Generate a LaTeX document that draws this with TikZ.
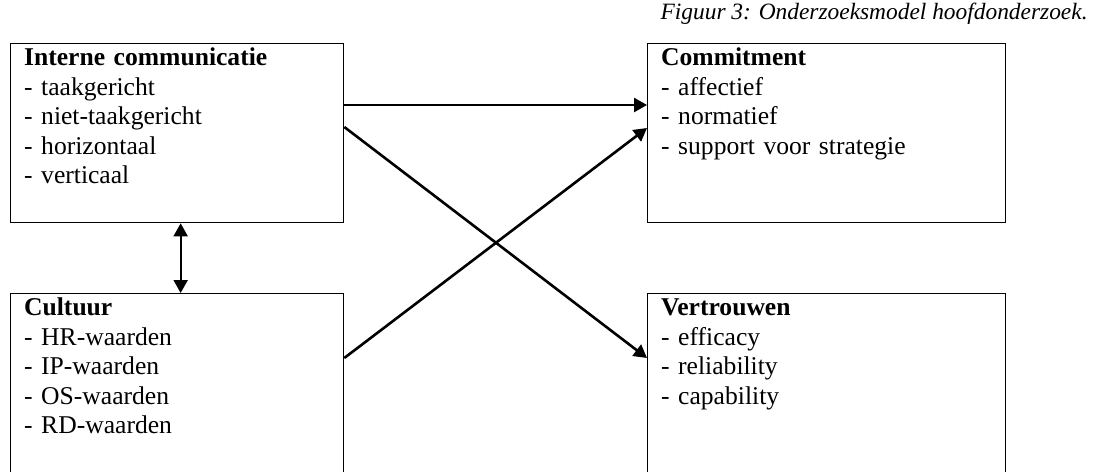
\documentclass[tikz,border=0pt]{standalone}
\usepackage{fontspec}
\setmainfont{Liberation Serif}
\usepackage{tikz}
\usetikzlibrary{arrows.meta,positioning}

\begin{document}
\begin{tikzpicture}[x=0.5pt,y=-0.5pt,
				block/.style ={rectangle, draw=black, line width=0.65pt,
					anchor=north west, align=left,
					inner xsep=6.75pt, inner ysep=0pt,
					text height=11pt, text depth=78.5pt,
					font=\fontsize{12.8}{14.75}\selectfont},
				block_left/.style ={block, text width=153pt},
				block_right/.style ={block, text width=165.5pt},
				line/.style ={draw, line width=1.3pt,
					-{Triangle[length=6.5pt,width=7pt]}, shorten >=0pt}]
				\useasboundingbox (0,0) rectangle (1095,471);
				% caption
				\node [anchor=base east, inner sep=0pt,
					font=\fontsize{11.7}{14}\selectfont\itshape] (caption) at (1088,19)
					{Figuur 3: Onderzoeksmodel hoofdonderzoek.};
				% left column
				\node [block_left] (intcomm) at (10,43) {\textbf{Interne communicatie}\\
					- taakgericht\\
					- niet-taakgericht\\
					- horizontaal\\
					- verticaal};
				\node [block_left] (cultuur) at (10,293) {\textbf{Cultuur}\\
					- HR-waarden\\
					- IP-waarden\\
					- OS-waarden\\
					- RD-waarden};
				% right column
				\node [block_right] (commitment) at (647,43) {\textbf{Commitment}\\
					- affectief\\
					- normatief\\
					- support voor strategie};
				\node [block_right] (vertrouwen) at (647,293) {\textbf{Vertrouwen}\\
					- efficacy\\
					- reliability\\
					- capability};
				% connecting nodes with paths
				\begin{scope}[every path/.style=line]
					\path ([yshift=-31pt]intcomm.north east) -- ([yshift=-31pt]commitment.north west);
					\path ([yshift=-42pt]intcomm.north east) -- ([yshift=-32.5pt]vertrouwen.north west);
					\path ([yshift=-32.5pt]cultuur.north east) -- ([yshift=-42.5pt]commitment.north west);
					\path [{Triangle[length=6.5pt,width=7pt]}-{Triangle[length=6.5pt,width=7pt]}, line width=1pt]
						([xshift=1.75pt]intcomm.south) -- ([xshift=1.75pt]cultuur.north);
				\end{scope}
			\end{tikzpicture}
\end{document}
